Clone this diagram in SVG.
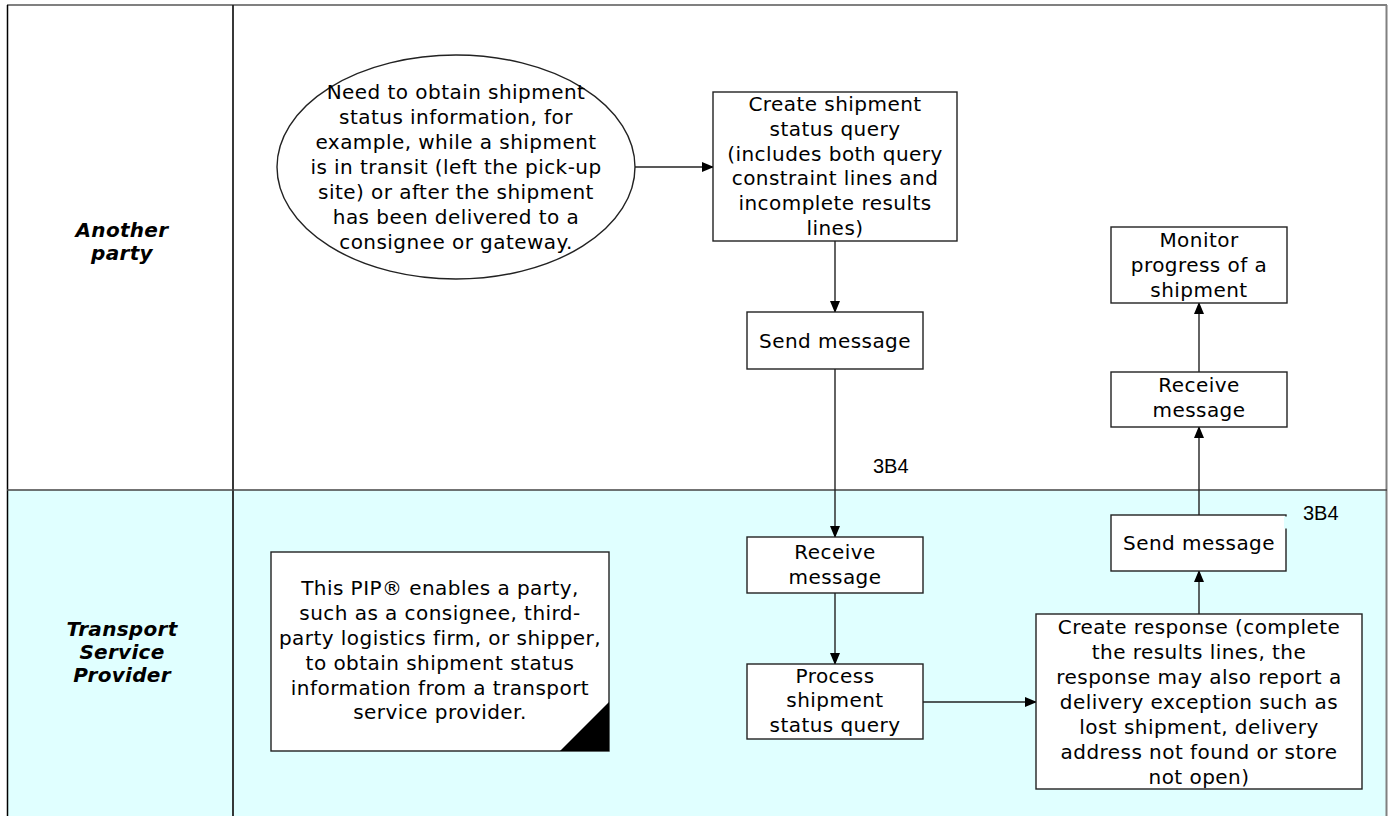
<svg xmlns="http://www.w3.org/2000/svg" width="1392" height="816" viewBox="0 0 1392 816">
<style>
.t{font-family:"DejaVu Sans","Verdana",sans-serif;font-size:20px;letter-spacing:0.45px;fill:#000;text-anchor:middle}
.lbl{font-family:"DejaVu Sans","Verdana",sans-serif;font-size:20px;font-weight:bold;font-style:italic;letter-spacing:0.3px;fill:#000;text-anchor:middle}
.code{font-family:"Liberation Sans",Arial,sans-serif;font-size:20px;fill:#000}
.box{fill:#fff;stroke:#222;stroke-width:1.4}
.c{stroke:#222;stroke-width:1.4;fill:none;marker-end:url(#ah)}
</style>
<defs>
<marker id="ah" markerWidth="12" markerHeight="10" refX="11" refY="5" orient="auto" markerUnits="userSpaceOnUse">
<path d="M0,0 L12,5 L0,10 Z" fill="#000"/>
</marker>
</defs>
<rect x="0" y="0" width="1392" height="816" fill="#fff"/>
<g id="lanes">
<rect x="7.5" y="490" width="1379" height="330" fill="#e0ffff"/>
<line x1="7" y1="5" x2="1387" y2="5" stroke="#808080" stroke-width="2"/>
<line x1="1386.5" y1="5" x2="1386.5" y2="816" stroke="#808080" stroke-width="2"/>
<line x1="7.5" y1="5" x2="7.5" y2="816" stroke="#000" stroke-width="1.5"/>
<line x1="233" y1="5" x2="233" y2="816" stroke="#222" stroke-width="1.8"/>
<line x1="7" y1="490" x2="1387" y2="490" stroke="#444" stroke-width="1.5"/>
<text class="lbl" x="122" y="237">Another</text>
<text class="lbl" x="122" y="260">party</text>
<text class="lbl" x="122" y="636">Transport</text>
<text class="lbl" x="122" y="659">Service</text>
<text class="lbl" x="122" y="682">Provider</text>
</g>
<g id="connectors">
<line class="c" x1="635" y1="167" x2="713" y2="167"/>
<line class="c" x1="835" y1="241" x2="835" y2="312"/>
<line class="c" x1="835" y1="369" x2="835" y2="537"/>
<line class="c" x1="835" y1="593" x2="835" y2="664"/>
<line class="c" x1="923" y1="702" x2="1036" y2="702"/>
<line class="c" x1="1199" y1="614" x2="1199" y2="571"/>
<line class="c" x1="1199" y1="515" x2="1199" y2="427"/>
<line class="c" x1="1199" y1="372" x2="1199" y2="303"/>
<text class="code" x="873" y="473">3B4</text>
</g>
<g id="start">
<ellipse class="box" cx="456" cy="167" rx="179" ry="112"/>
<text class="t" x="456" y="98.7">Need to obtain shipment</text>
<text class="t" x="456" y="123.7">status information, for</text>
<text class="t" x="456" y="148.7">example, while a shipment</text>
<text class="t" x="456" y="173.7">is in transit (left the pick-up</text>
<text class="t" x="456" y="198.7">site) or after the shipment</text>
<text class="t" x="456" y="223.7">has been delivered to a</text>
<text class="t" x="456" y="248.7">consignee or gateway.</text>
</g>
<g id="create-query">
<rect class="box" x="713" y="92" width="244" height="149"/>
<text class="t" x="835" y="111">Create shipment</text>
<text class="t" x="835" y="136">status query</text>
<text class="t" x="835" y="161">(includes both query</text>
<text class="t" x="835" y="185">constraint lines and</text>
<text class="t" x="835" y="210">incomplete results</text>
<text class="t" x="835" y="235">lines)</text>
</g>
<g id="send-query">
<rect class="box" x="747" y="312" width="176" height="57"/>
<text class="t" x="835" y="347.5">Send message</text>
</g>
<g id="receive-query">
<rect class="box" x="747" y="537" width="176" height="56"/>
<text class="t" x="835" y="558.5">Receive</text>
<text class="t" x="835" y="583.5">message</text>
</g>
<g id="process-query">
<rect class="box" x="747" y="664" width="176" height="75"/>
<text class="t" x="835" y="683">Process</text>
<text class="t" x="835" y="707">shipment</text>
<text class="t" x="835" y="732">status query</text>
</g>
<g id="create-response">
<rect class="box" x="1036" y="614" width="326" height="175"/>
<text class="t" x="1199" y="633.5">Create response (complete</text>
<text class="t" x="1199" y="658.5">the results lines, the</text>
<text class="t" x="1199" y="683.5">response may also report a</text>
<text class="t" x="1199" y="708.5">delivery exception such as</text>
<text class="t" x="1199" y="733.5">lost shipment, delivery</text>
<text class="t" x="1199" y="758.5">address not found or store</text>
<text class="t" x="1199" y="783.5">not open)</text>
</g>
<g id="send-response">
<rect class="box" x="1111" y="515" width="175" height="56"/>
<rect x="1284" y="516.5" width="5" height="12" fill="#e0ffff"/>
<text class="t" x="1199" y="550">Send message</text>
<text class="code" x="1303" y="520">3B4</text>
</g>
<g id="receive-response">
<rect class="box" x="1111" y="372" width="176" height="55"/>
<text class="t" x="1199" y="392">Receive</text>
<text class="t" x="1199" y="417">message</text>
</g>
<g id="monitor">
<rect class="box" x="1111" y="227" width="176" height="76"/>
<text class="t" x="1199" y="247">Monitor</text>
<text class="t" x="1199" y="272">progress of a</text>
<text class="t" x="1199" y="297">shipment</text>
</g>
<g id="note">
<rect class="box" x="271" y="552" width="338" height="199"/>
<path d="M560,751 L609,751 L609,702 Z" fill="#000"/>
<text class="t" x="440" y="595">This PIP® enables a party,</text>
<text class="t" x="440" y="620">such as a consignee, third-</text>
<text class="t" x="440" y="645">party logistics firm, or shipper,</text>
<text class="t" x="440" y="670">to obtain shipment status</text>
<text class="t" x="440" y="695">information from a transport</text>
<text class="t" x="440" y="719">service provider.</text>
</g>
</svg>
